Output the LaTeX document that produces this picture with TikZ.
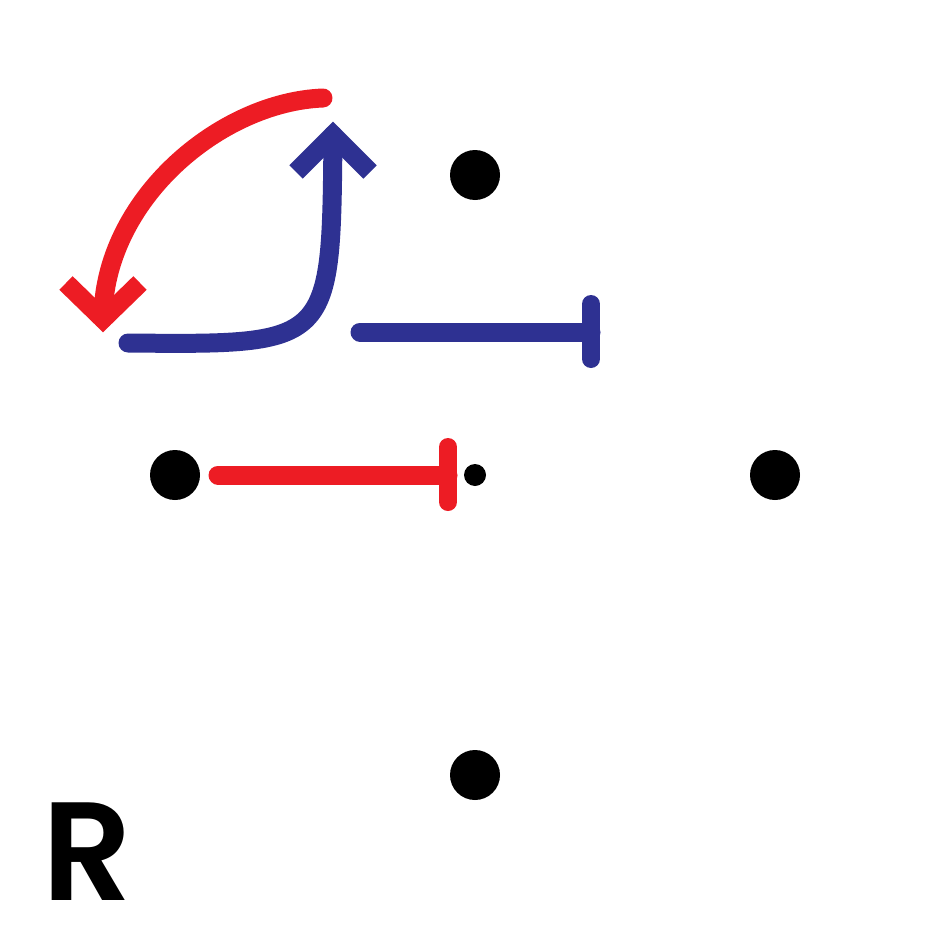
\documentclass[tikz,border=0pt]{standalone}
\usepackage{fontspec}
\setmainfont{Poppins}
\newfontfamily\rfont{Poppins SemiBold}
\definecolor{myred}{HTML}{ED1C24}
\definecolor{myblue}{HTML}{2E3192}
\begin{document}
\begin{tikzpicture}[x=1pt,y=-1pt,
  dot/.style={circle,fill=black,inner sep=0pt,minimum size=50pt},
  smalldot/.style={circle,fill=black,inner sep=0pt,minimum size=22pt},
  thick line/.style={line width=19pt,line cap=round},
  head/.style={line width=19pt,line cap=butt,line join=miter}]
\useasboundingbox (0,0) rectangle (950,950);
% dots
\node[dot] (top) at (475,175) {};
\node[dot] (left) at (175,475) {};
\node[smalldot] (center) at (475,475) {};
\node[dot] (right) at (775,475) {};
\node[dot] (bottom) at (475,775) {};
% red curved arrow
\coordinate (rs) at (323,98);
\coordinate (re) at (103,319);
\draw[thick line,myred] (rs) .. controls (220,102) and (103,200) .. (re);
\draw[head,myred] (66,283) -- (re) -- (140,283);
% blue curved arrow
\coordinate (bs) at (128,343);
\coordinate (be) at (333,135);
\draw[thick line,myblue] (bs) .. controls (333,345) and (331,345) .. (be);
\draw[head,myblue] (296,172) -- (be) -- (370,172);
% blue inhibition
\coordinate (b1) at (360,332);
\coordinate (b2) at (591,332);
\draw[thick line,myblue] (b1) -- (b2);
\draw[thick line,myblue,line width=18pt] (591,304) -- (591,359);
% red inhibition
\coordinate (r1) at (218,475);
\coordinate (r2) at (448,475);
\draw[thick line,myred] (r1) -- (r2);
\draw[thick line,myred,line width=18pt] (448,447) -- (448,502);
% label
\node[anchor=base west,inner sep=0pt,font=\rfont\fontsize{140}{140}\selectfont] (lbl) at (42,900) {R};
\end{tikzpicture}
\end{document}
